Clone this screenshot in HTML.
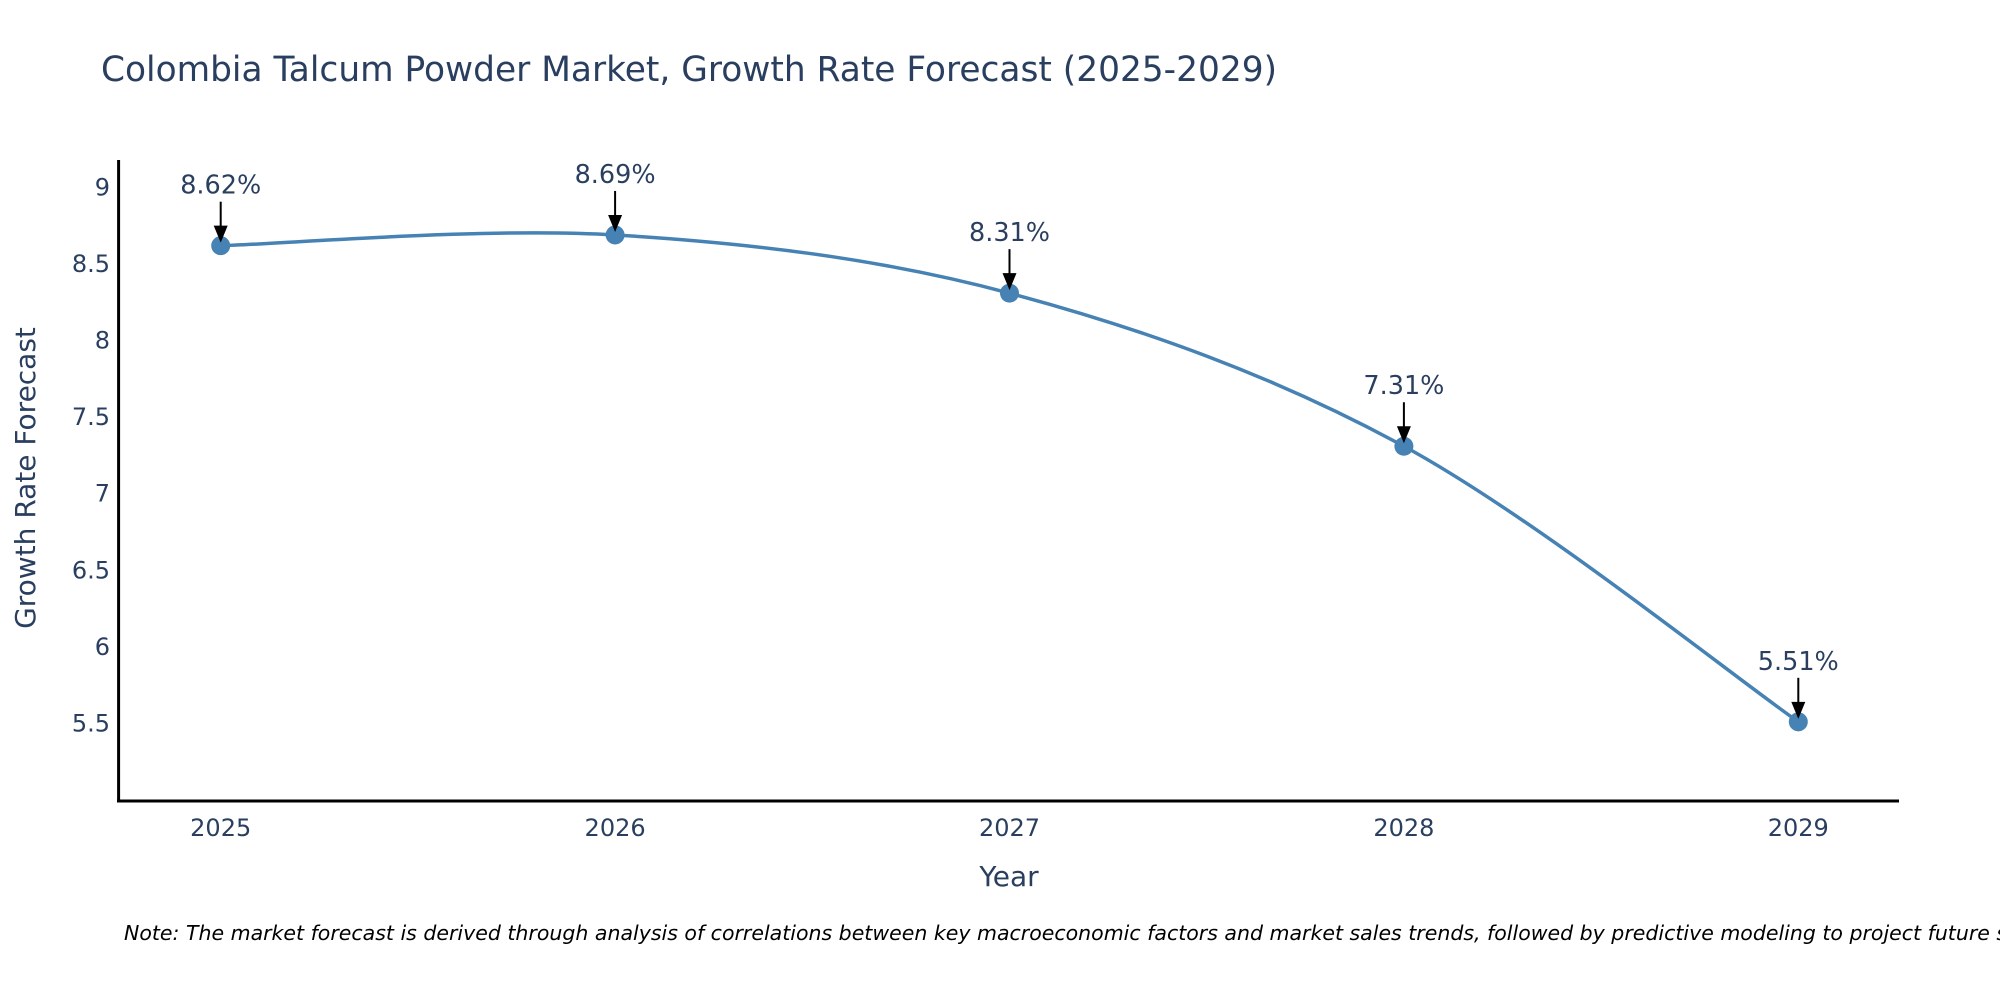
<!DOCTYPE html>
<html><head><meta charset="utf-8"><style>
html,body{margin:0;padding:0;background:#fff;width:2000px;height:1000px;overflow:hidden}
svg{display:block}
</style></head><body>
<svg id="chart" width="2000" height="1000" xmlns="http://www.w3.org/2000/svg">
<text x="101" y="81" font-family="'DejaVu Sans','Liberation Sans',sans-serif" font-size="35" fill="#2a3f5f" textLength="1176" lengthAdjust="spacingAndGlyphs">Colombia Talcum Powder Market, Growth Rate Forecast (2025-2029)</text>
<g id="plot"></g>
<text transform="translate(35,478) rotate(-90)" text-anchor="middle" font-family="'DejaVu Sans','Liberation Sans',sans-serif" font-size="28" fill="#2a3f5f">Growth Rate Forecast</text>
<text x="1009" y="886" text-anchor="middle" font-family="'DejaVu Sans','Liberation Sans',sans-serif" font-size="28" fill="#2a3f5f">Year</text>
<text x="124" y="940" font-family="'DejaVu Sans','Liberation Sans',sans-serif" font-style="italic" font-size="20.5" fill="#000">Note: The market forecast is derived through analysis of correlations between key macroeconomic factors and market sales trends, followed by predictive modeling to project future sales.</text>
</svg>
<script>
const categories = ["2025","2026","2027","2028","2029"];
const values = [8.62, 8.69, 8.31, 7.31, 5.51];
const valueLabels = ["8.62%","8.69%","8.31%","7.31%","5.51%"];
const yTicks = [5.5, 6, 6.5, 7, 7.5, 8, 8.5, 9];
const yTickLabels = ["5.5","6","6.5","7","7.5","8","8.5","9"];

const NS="http://www.w3.org/2000/svg";
const X0=220.7, XSTEP=394.4, YREF=187.5, YUNIT=153.1;
const xPos=i=>X0+i*XSTEP;
const yPos=v=>YREF+(9-v)*YUNIT;
const g=document.getElementById('plot');
function mk(tag,attrs,parent){const e=document.createElementNS(NS,tag);for(const k in attrs)e.setAttribute(k,attrs[k]);(parent||g).appendChild(e);return e;}
const font="'DejaVu Sans','Liberation Sans',sans-serif";

let ax=mk('line',{x1:118.6,y1:160,x2:118.6,y2:802,stroke:'#000','stroke-width':3});


ax=mk('line',{x1:117,y1:801,x2:1899,y2:801,stroke:'#000','stroke-width':3});



yTicks.forEach((t,i)=>{
 const e=mk('text',{x:110,y:yPos(t)+8,'text-anchor':'end','font-family':font,'font-size':24,fill:'#2a3f5f'});
 e.textContent=yTickLabels[i];
 
 
});
categories.forEach((c,i)=>{
 const e=mk('text',{x:xPos(i),y:836,'text-anchor':'middle','font-family':font,'font-size':24,fill:'#2a3f5f'});
 e.textContent=c;
 
 
});

const pts=values.map((v,i)=>[xPos(i),yPos(v)]);
let d=`M${pts[0][0]},${pts[0][1]}`;
const s=1/6;
for(let i=0;i<pts.length-1;i++){
 const p0=pts[Math.max(0,i-1)],p1=pts[i],p2=pts[i+1],p3=pts[Math.min(pts.length-1,i+2)];
 const c1=[p1[0]+(p2[0]-p0[0])*s,p1[1]+(p2[1]-p0[1])*s];
 const c2=[p2[0]-(p3[0]-p1[0])*s,p2[1]-(p3[1]-p1[1])*s];
 d+=` C${c1[0]},${c1[1]} ${c2[0]},${c2[1]} ${p2[0]},${p2[1]}`;
}
const line=mk('path',{d:d,fill:'none',stroke:'#4682b4','stroke-width':3.5});



pts.forEach((p,i)=>{
 const c=mk('circle',{cx:p[0],cy:p[1],r:9.5,fill:'#4682b4'});
 
 
 const a=mk('line',{x1:p[0],y1:p[1]-44,x2:p[0],y2:p[1]-14,stroke:'#000','stroke-width':2});
 
 
 const h=mk('polygon',{points:`${p[0]-7},${p[1]-20} ${p[0]+7},${p[1]-20} ${p[0]},${p[1]-3}`,fill:'#000'});
 
 
 const t=mk('text',{x:p[0],y:p[1]-52,'text-anchor':'middle','font-family':font,'font-size':25.5,fill:'#2a3f5f'});
 t.textContent=valueLabels[i];
 
 
});
</script>
</body></html>
